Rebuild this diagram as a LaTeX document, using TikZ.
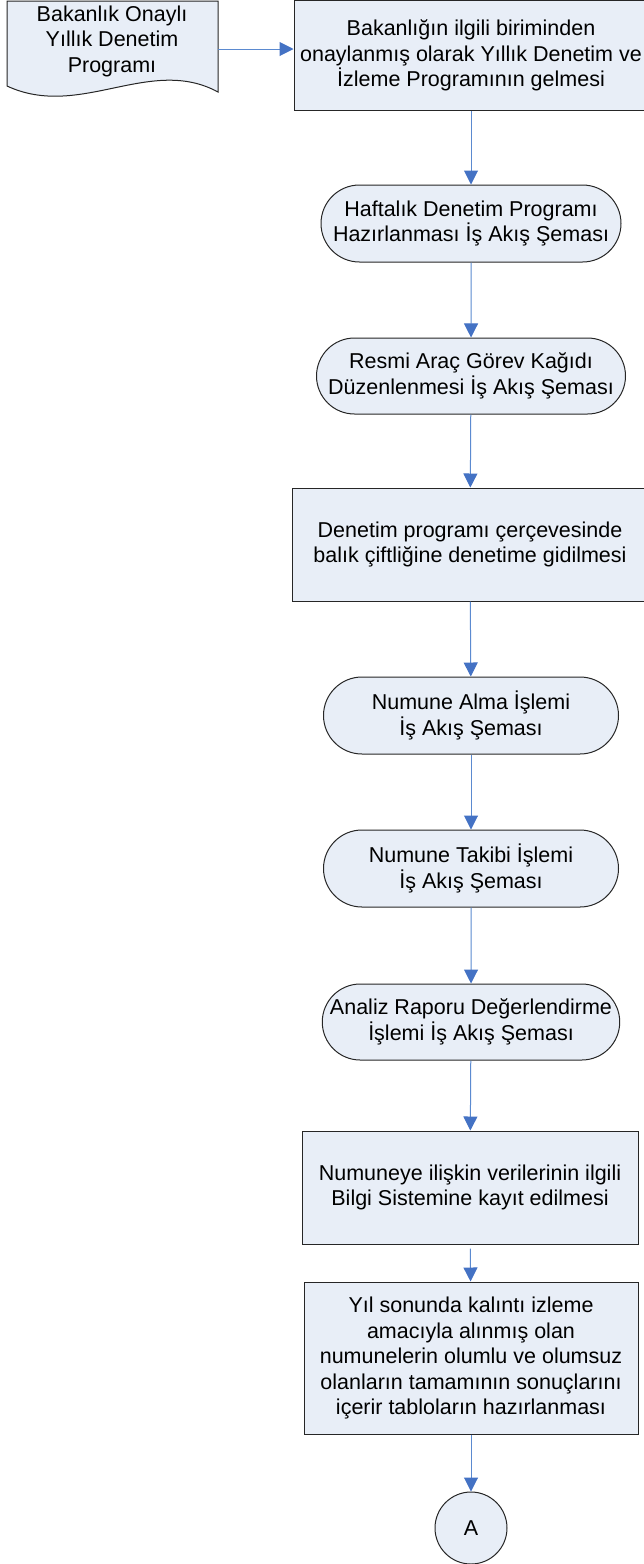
\documentclass[tikz,border=0pt]{standalone}
\usepackage{fontspec}
\setmainfont{Liberation Sans}
\usetikzlibrary{arrows.meta, shapes.misc}

\definecolor{boxfill}{HTML}{E8EEF7}
\definecolor{linkblue}{HTML}{5B8AD0}
\definecolor{tipblue}{HTML}{4472C4}

\begin{document}
\begin{tikzpicture}[x=1pt, y=-1pt,
   every node/.style = {font=\fontsize{21.5}{25.5}\selectfont, align=center},
   box/.style = {rectangle, draw=black!85, fill=boxfill, line width=1pt, inner sep=0pt},
   term/.style = {box, rounded rectangle},
   link/.style = {draw=linkblue, line width=1pt,
                  -{Triangle[length=14pt, width=14pt, color=tipblue]}}]
   \useasboundingbox (0,0) rectangle (643,1564);

   % document shape on the left
   \filldraw[fill=boxfill, draw=black!85, line width=1pt]
      (7,1) -- (218,1) -- (218,92)
      .. controls (150,55) and (80,120) .. (7,86) -- cycle;
   \node (prog) at (112,41) {Bakanlık Onaylı\\Yıllık Denetim\\Programı};
   \coordinate (progout) at (218,49);

   \node[box, minimum width=354pt, minimum height=110pt] (gel) at (471,55.5)
      {Bakanlığın ilgili biriminden\\onaylanmış olarak Yıllık Denetim ve\\İzleme Programının gelmesi};
   \node[term, minimum width=300pt, minimum height=77pt] (haft) at (471,223.5)
      {Haftalık Denetim Programı\\Hazırlanması İş Akış Şeması};
   \node[term, minimum width=309pt, minimum height=76pt] (resmi) at (471,376)
      {Resmi Araç Görev Kağıdı\\Düzenlenmesi İş Akış Şeması};
   \node[box, minimum width=356pt, minimum height=113pt] (gidis) at (470,544.5)
      {Denetim programı çerçevesinde\\balık çiftliğine denetime gidilmesi};
   \node[term, minimum width=295pt, minimum height=77pt] (alma) at (471,715.5)
      {Numune Alma İşlemi\\İş Akış Şeması};
   \node[term, minimum width=295pt, minimum height=77pt] (takip) at (471,868.5)
      {Numune Takibi İşlemi\\İş Akış Şeması};
   \node[term, minimum width=295pt, minimum height=76pt] (analiz) at (471,1022)
      {Analiz Raporu Değerlendirme\\İşlemi İş Akış Şeması};
   \node[box, minimum width=336pt, minimum height=113pt] (kayit) at (470,1187.5)
      {Numuneye ilişkin verilerinin ilgili\\Bilgi Sistemine kayıt edilmesi};
   \node[box, minimum width=334pt, minimum height=152pt] (tablo) at (471,1358)
      {Yıl sonunda kalıntı izleme\\amacıyla alınmış olan\\numunelerin olumlu ve olumsuz\\olanların tamamının sonuçlarını\\içerir tabloların hazırlanması};
   \node[box, circle, minimum size=72pt] (A) at (471,1528) {A};

   \draw[link] (progout) -- (gel.west |- progout);
   \draw[link] (gel) -- (haft);
   \draw[link] (haft) -- (resmi);
   \draw[link] (resmi) -- (gidis);
   \draw[link] (gidis) -- (alma);
   \draw[link] (alma) -- (takip);
   \draw[link] (takip) -- (analiz);
   \draw[link] (analiz) -- (kayit);
   \draw[link, shorten <=4pt] (kayit) -- (tablo);
   \draw[link] (tablo) -- (A);
\end{tikzpicture}
\end{document}
